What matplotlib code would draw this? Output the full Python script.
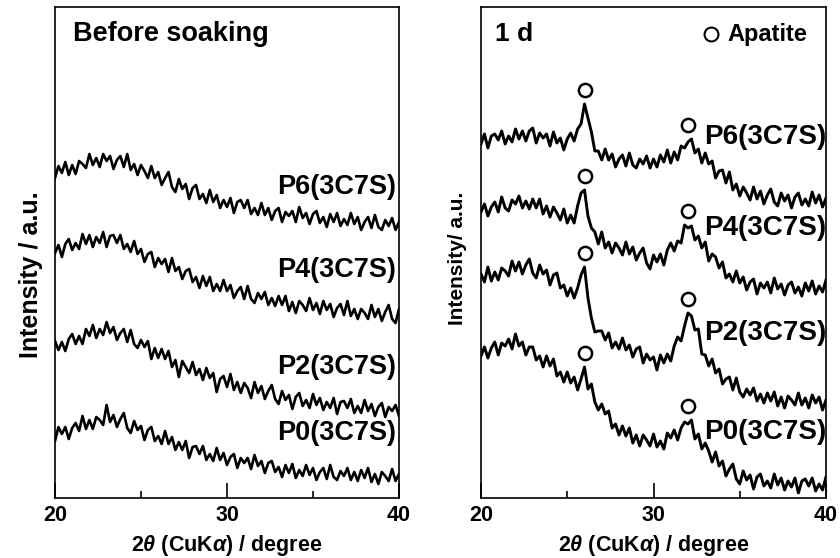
import numpy as np
import matplotlib.pyplot as plt

plt.rcParams['font.family'] = ['Liberation Sans', 'DejaVu Sans']
plt.rcParams['font.weight'] = 'bold'
plt.rcParams['axes.labelweight'] = 'bold'
plt.rcParams['mathtext.fontset'] = 'custom'
plt.rcParams['mathtext.rm'] = 'Liberation Sans:bold'
plt.rcParams['mathtext.it'] = 'Liberation Sans:italic:bold'

# 2theta scan, 0.2 deg step
two_theta = np.round(np.arange(20, 40.001, 0.2), 1)

# intensity (a.u., stacked as in the figure) - before soaking
before_p6 = [320, 332, 325, 336, 323, 333, 324, 337, 334, 330,
             344, 333, 340, 331, 344, 337, 342, 329, 338, 342,
             331, 344, 328, 334, 323, 333, 327, 320, 332, 320,
             326, 313, 320, 326, 311, 306, 319, 309, 314, 299,
             310, 313, 299, 304, 295, 308, 296, 303, 290, 298,
             291, 300, 285, 296, 298, 290, 298, 284, 290, 283,
             295, 283, 290, 278, 287, 290, 276, 286, 282, 287,
             276, 291, 280, 285, 274, 284, 287, 275, 281, 271,
             284, 276, 285, 272, 279, 273, 285, 274, 281, 268,
             276, 281, 270, 283, 271, 268, 278, 272, 280, 268,
             276]
before_p4 = [245, 253, 241, 254, 259, 248, 255, 249, 264, 254,
             263, 251, 261, 255, 266, 251, 262, 263, 255, 263,
             249, 254, 246, 257, 244, 249, 236, 244, 246, 231,
             240, 234, 239, 226, 240, 227, 231, 219, 227, 229,
             216, 221, 210, 222, 212, 221, 207, 214, 207, 218,
             207, 213, 200, 207, 211, 199, 212, 199, 195, 205,
             199, 206, 193, 200, 192, 202, 193, 202, 187, 196,
             185, 197, 193, 187, 200, 188, 195, 184, 197, 188,
             194, 181, 190, 194, 183, 197, 182, 189, 179, 189,
             185, 179, 193, 181, 189, 177, 186, 193, 179, 175,
             189]
before_p2 = [157, 148, 156, 147, 159, 164, 154, 162, 154, 169,
             162, 173, 160, 169, 163, 176, 165, 171, 158, 165,
             169, 156, 168, 154, 150, 158, 151, 157, 139, 150,
             140, 149, 139, 147, 131, 138, 121, 137, 131, 125,
             136, 123, 129, 118, 130, 120, 125, 106, 119, 122,
             111, 124, 108, 116, 105, 115, 110, 100, 116, 105,
             112, 99, 107, 113, 99, 94, 107, 98, 103, 89,
             101, 105, 92, 98, 90, 104, 93, 100, 88, 96,
             90, 100, 84, 96, 97, 90, 99, 85, 92, 85,
             98, 87, 94, 82, 91, 95, 81, 91, 87, 93,
             82]
before_p0 = [57, 71, 64, 71, 59, 70, 75, 67, 82, 69,
             78, 69, 81, 78, 73, 93, 76, 83, 71, 79,
             85, 70, 65, 77, 68, 72, 58, 68, 71, 57,
             62, 54, 67, 54, 61, 48, 56, 48, 57, 40,
             51, 52, 44, 52, 38, 44, 37, 50, 38, 45,
             33, 41, 44, 30, 40, 35, 40, 29, 43, 32,
             37, 25, 35, 37, 26, 31, 21, 33, 25, 34,
             20, 28, 22, 33, 23, 30, 18, 26, 30, 19,
             33, 21, 18, 27, 22, 30, 18, 26, 17, 28,
             20, 30, 16, 24, 14, 26, 22, 17, 29, 17,
             24]

# intensity (a.u., stacked) - after 1 d soaking
day1_p6 = [354, 364, 350, 362, 364, 358, 367, 354, 362, 356,
           369, 359, 367, 357, 367, 370, 355, 365, 360, 364,
           352, 366, 355, 360, 348, 359, 365, 357, 369, 374,
           394, 380, 366, 347, 347, 338, 349, 338, 344, 331,
           339, 343, 332, 345, 333, 330, 339, 334, 342, 330,
           339, 331, 343, 336, 348, 335, 346, 338, 352, 350,
           356, 359, 345, 349, 335, 345, 334, 337, 320, 327,
           328, 315, 326, 308, 314, 302, 311, 305, 298, 311,
           299, 307, 294, 303, 309, 296, 292, 305, 297, 303,
           290, 301, 305, 293, 299, 292, 306, 295, 303, 291,
           300]
day1_p4 = [286, 294, 282, 291, 296, 286, 301, 290, 287, 298,
           294, 302, 290, 297, 289, 299, 290, 299, 284, 292,
           281, 291, 285, 278, 289, 275, 283, 275, 292, 305,
           308, 282, 270, 266, 254, 266, 250, 256, 245, 255,
           250, 243, 256, 244, 251, 238, 245, 250, 235, 229,
           243, 236, 244, 233, 248, 255, 247, 257, 255, 273,
           270, 272, 258, 262, 250, 256, 237, 244, 241, 230,
           236, 220, 224, 216, 227, 215, 221, 208, 216, 219,
           204, 215, 210, 216, 205, 220, 209, 214, 203, 213,
           216, 205, 211, 202, 215, 207, 217, 204, 212, 206,
           218]
day1_p2 = [224, 216, 231, 217, 226, 218, 230, 227, 222, 237,
           227, 236, 224, 233, 239, 225, 220, 233, 224, 228,
           213, 223, 225, 210, 213, 202, 210, 200, 210, 223,
           231, 200, 180, 166, 167, 167, 158, 165, 150, 156,
           149, 160, 148, 153, 141, 149, 151, 135, 144, 138,
           141, 128, 143, 135, 144, 137, 152, 161, 157, 172,
           185, 182, 168, 169, 144, 143, 132, 139, 125, 129,
           114, 119, 121, 108, 120, 106, 101, 109, 103, 110,
           97, 104, 95, 105, 97, 106, 92, 101, 90, 102,
           98, 93, 105, 93, 100, 90, 103, 95, 101, 88,
           98]
day1_p0 = [142, 151, 140, 150, 156, 143, 155, 152, 159, 149,
           164, 152, 156, 143, 151, 151, 138, 142, 131, 142,
           132, 139, 122, 126, 116, 126, 115, 121, 108, 119,
           131, 109, 114, 96, 88, 94, 84, 87, 70, 74,
           63, 72, 62, 70, 55, 63, 52, 63, 58, 52,
           64, 51, 57, 49, 65, 60, 68, 58, 70, 76,
           74, 78, 59, 64, 49, 55, 47, 36, 46, 32,
           37, 22, 29, 34, 19, 14, 27, 18, 23, 9,
           21, 24, 12, 17, 10, 24, 13, 20, 8, 17,
           11, 20, 5, 17, 19, 12, 20, 7, 14, 8,
           21]

sample_labels = ['P0(3C7S)', 'P2(3C7S)', 'P4(3C7S)', 'P6(3C7S)']
apatite_peaks = [26.0, 32.0]

before_curves = [before_p0, before_p2, before_p4, before_p6]
day1_curves = [day1_p0, day1_p2, day1_p4, day1_p6]
before_label_y = [65, 131, 228, 311]
day1_label_y = [66, 165, 270, 361]

fig = plt.figure(figsize=(8.4, 5.58), dpi=100)
ax1 = fig.add_axes([55 / 840, 60 / 558, 344 / 840, 491 / 558])
ax2 = fig.add_axes([481 / 840, 60 / 558, 345 / 840, 491 / 558])

for ax in (ax1, ax2):
    ax.set_xlim(20, 40)
    ax.set_ylim(0, 491)
    ax.set_xticks([20, 30, 40])
    ax.set_xticks([25, 35], minor=True)
    ax.set_yticks([])
    ax.tick_params(axis='x', which='major', direction='in', length=11,
                   width=1.2, labelsize=15.5, pad=5)
    ax.tick_params(axis='x', which='minor', direction='in', length=5,
                   width=1.2)
    for sp in ax.spines.values():
        sp.set_linewidth(1.2)
    ax.set_xlabel(r'2$\theta$ (CuK$\alpha$) / degree', fontsize=15.5,
                  labelpad=5)

for curve, lab, ly in zip(before_curves, sample_labels, before_label_y):
    ax1.plot(two_theta, curve, color='black', lw=1.9)
    ax1.text(32.9, ly, lab, fontsize=19.5, ha='left', va='center')

for curve, lab, ly in zip(day1_curves, sample_labels, day1_label_y):
    curve = np.asarray(curve)
    ax2.plot(two_theta, curve, color='black', lw=2.1)
    ax2.text(32.93, ly, lab, fontsize=20, ha='left', va='center',
             clip_on=False)
    for pk in apatite_peaks:
        i = int(np.argmin(np.abs(two_theta - pk)))
        top = curve[i - 1:i + 2].max()
        ax2.plot(pk, top + 14, 'o', ms=9.5, mfc='white', mec='black',
                 mew=1.8)

ax1.text(0.052, 0.931, 'Before soaking', transform=ax1.transAxes,
         fontsize=19.5, ha='left', va='baseline')
ax2.text(0.041, 0.931, '1 d', transform=ax2.transAxes,
         fontsize=19, ha='left', va='baseline')
ax2.plot([0.667], [0.945], 'o', transform=ax2.transAxes, ms=10,
         mfc='white', mec='black', mew=1.5, clip_on=False)
ax2.text(0.713, 0.931, 'Apatite', transform=ax2.transAxes,
         fontsize=17, ha='left', va='baseline')

ax1.set_ylabel('Intensity / a.u.', fontsize=18)
ax1.yaxis.set_label_coords(-0.035, 0.454)
ax2.set_ylabel('Intensity/ a.u.', fontsize=15)
ax2.yaxis.set_label_coords(-0.04, 0.489)

fig.savefig('out.png', dpi=100)
